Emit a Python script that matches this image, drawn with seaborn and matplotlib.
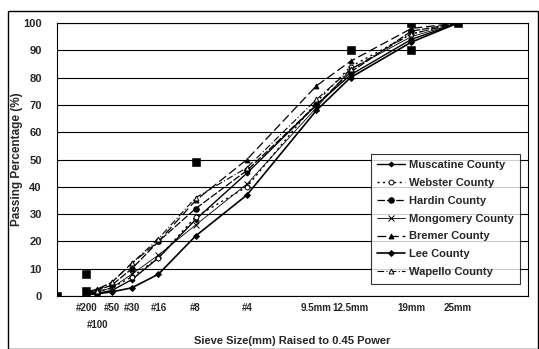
import numpy as np
import pandas as pd
import matplotlib
matplotlib.use("Agg")
import matplotlib.pyplot as plt
import seaborn as sns

# Sieve sizes (mm) and labels
sieve_mm = [0.075, 0.15, 0.3, 0.6, 1.18, 2.36, 4.75, 9.5, 12.5, 19, 25]
sieve_labels = ["#200", "#100", "#50", "#30", "#16", "#8", "#4", "9.5mm", "12.5mm", "19mm", "25mm"]

counties = ["Muscatine County", "Webster County", "Hardin County", "Mongomery County",
            "Bremer County", "Lee County", "Wapello County"]

muscatine = [0.5, 1.0, 2.0, 6.0, 14.0, 28.0, 45.0, 70.0, 81.0, 94.0, 100.0]
webster   = [1.0, 1.5, 3.0, 7.0, 14.0, 29.0, 40.0, 71.0, 84.0, 96.0, 100.0]
hardin    = [1.0, 2.0, 4.0, 10.0, 20.0, 32.0, 46.0, 70.0, 82.0, 97.0, 100.0]
mongomery = [1.0, 1.5, 3.0, 8.0, 15.0, 26.0, 41.0, 69.0, 83.0, 95.0, 100.0]
bremer    = [1.5, 2.5, 5.0, 12.0, 20.0, 35.0, 50.0, 77.0, 86.0, 98.0, 100.0]
lee       = [0.5, 0.8, 1.5, 3.0, 8.0, 22.0, 37.0, 68.0, 80.0, 93.0, 100.0]
wapello   = [1.0, 2.0, 5.0, 12.0, 21.0, 36.0, 47.0, 72.0, 83.0, 96.0, 100.0]

series = [muscatine, webster, hardin, mongomery, bremer, lee, wapello]

# Control points (sieve mm, percent)
ctrl_mm  = [0.0, 0.075, 0.075, 2.36, 12.5, 19, 19, 25]
ctrl_pct = [0.0, 2.0, 8.0, 49.0, 90.0, 90.0, 100.0, 100.0]

POW = 0.45
rows = []
for name, vals in zip(counties, series):
    for s, v in zip(sieve_mm, vals):
        rows.append({"county": name, "x": s ** POW, "pct": v})
df = pd.DataFrame(rows)
ctrl = pd.DataFrame({"x": [c ** POW for c in ctrl_mm], "pct": ctrl_pct})

sns.set_theme(style="white")
plt.rcParams["font.family"] = ["Liberation Sans", "DejaVu Sans"]

fig = plt.figure(figsize=(5.39, 3.49), dpi=100)
ax = fig.add_axes([57/539, 53/349, 471/539, 273/349])

dashes = {
    "Muscatine County": "",
    "Webster County": (1.5, 2.5),
    "Hardin County": (6, 1.5),
    "Mongomery County": "",
    "Bremer County": (7, 3),
    "Lee County": "",
    "Wapello County": (6, 2, 1, 2),
}
markers = {
    "Muscatine County": "D",
    "Webster County": "o",
    "Hardin County": "o",
    "Mongomery County": "x",
    "Bremer County": "^",
    "Lee County": "D",
    "Wapello County": "^",
}
lws = {"Muscatine County": 1.0, "Webster County": 1.0, "Hardin County": 0.9,
       "Mongomery County": 0.6, "Bremer County": 0.9, "Lee County": 1.2, "Wapello County": 0.8}
msz = {"Muscatine County": 2.5, "Webster County": 3.5, "Hardin County": 4, "Mongomery County": 4,
       "Bremer County": 3.5, "Lee County": 3, "Wapello County": 3.5}
mfc = {"Muscatine County": "black", "Webster County": "white", "Hardin County": "black",
       "Mongomery County": "black", "Bremer County": "black", "Lee County": "black",
       "Wapello County": "white"}

for name in counties:
    sub = df[df["county"] == name]
    sns.lineplot(data=sub, x="x", y="pct", ax=ax, color="black", lw=lws[name],
                 marker=markers[name], markersize=msz[name], markerfacecolor=mfc[name],
                 markeredgecolor="black", markeredgewidth=0.7,
                 dashes=False, label=name, estimator=None, sort=False)
    line = ax.get_lines()[-1]
    if dashes[name]:
        line.set_dashes(dashes[name])

sns.scatterplot(data=ctrl, x="x", y="pct", ax=ax, marker="s", s=28, color="black",
                edgecolor="black", zorder=5, legend=False)

ax.set_xlim(0, 5)
ax.set_ylim(0, 100)
ax.set_yticks(np.arange(0, 101, 10))
ax.set_yticklabels([str(v) for v in range(0, 101, 10)], fontsize=8, fontweight="bold")

xpos = [s ** POW for s in sieve_mm]
# first row: all labels except #100; second row: #100 (minor tick, larger pad)
major_idx = [i for i in range(len(sieve_mm)) if i != 1]
ax.set_xticks([xpos[i] for i in major_idx])
ax.set_xticklabels([sieve_labels[i] for i in major_idx], fontsize=7, fontweight="bold")
ax.set_xticks([xpos[1]], minor=True)
ax.set_xticklabels([sieve_labels[1]], minor=True, fontsize=7, fontweight="bold")
ax.tick_params(axis="y", length=0, pad=11)
ax.tick_params(axis="x", which="major", length=0, pad=5)
ax.tick_params(axis="x", which="minor", length=0, pad=17)
ax.grid(axis="y", color="black", lw=0.8)
ax.grid(axis="x", visible=False)
for sp in ax.spines.values():
    sp.set_color("black")
    sp.set_linewidth(0.8)

ax.set_xlabel("Sieve Size(mm) Raised to 0.45 Power", fontsize=8, fontweight="bold")
ax.xaxis.set_label_coords(0.5, -0.148)
ax.set_ylabel("Passing Percentage (%)", fontsize=8.5, fontweight="bold")
ax.yaxis.set_label_coords(-0.072, 0.5)

leg = ax.legend(loc="lower right", bbox_to_anchor=(0.995, 0.025), fontsize=8, frameon=True,
                fancybox=False, edgecolor="black", handlelength=2.5, labelspacing=0.7,
                borderpad=0.6, handletextpad=0.3)
leg.get_frame().set_linewidth(0.8)
for t in leg.get_texts():
    t.set_fontweight("bold")

# outer chart border
fig.patches.append(plt.Rectangle((8/539, 0.0), 530/539, 338/349, transform=fig.transFigure,
                                 fill=False, edgecolor="black", lw=1.0))

fig.savefig("out.png", dpi=100)
